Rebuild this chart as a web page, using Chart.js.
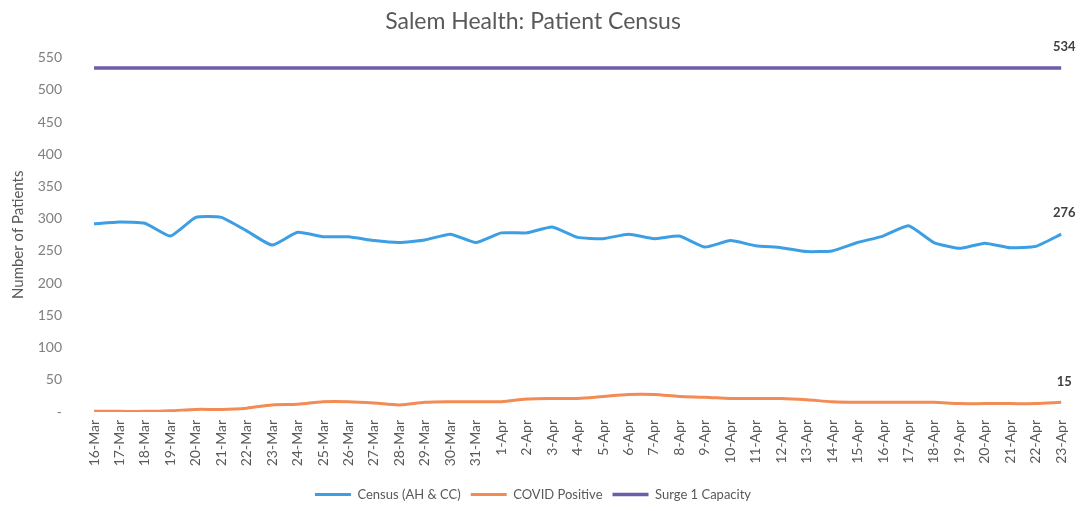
<!DOCTYPE html>
<html>
<head>
<meta charset="utf-8">
<script src="https://cdn.jsdelivr.net/npm/chart.js@4/dist/chart.umd.min.js"></script>
<style>
  html, body { margin: 0; padding: 0; background: #fff; }
  #wrap { width: 1086px; height: 511px; position: relative; }
</style>
</head>
<body>
<div id="wrap"><canvas id="censusChart"></canvas></div>
<script>
// dates on the x axis
const dias = ['16-Mar','17-Mar','18-Mar','19-Mar','20-Mar','21-Mar','22-Mar','23-Mar','24-Mar','25-Mar',
  '26-Mar','27-Mar','28-Mar','29-Mar','30-Mar','31-Mar','1-Apr','2-Apr','3-Apr','4-Apr','5-Apr','6-Apr',
  '7-Apr','8-Apr','9-Apr','10-Apr','11-Apr','12-Apr','13-Apr','14-Apr','15-Apr','16-Apr','17-Apr',
  '18-Apr','19-Apr','20-Apr','21-Apr','22-Apr','23-Apr'];

const censo = [292, 295, 293, 273, 302, 302, 281, 259, 279, 272, 272, 266, 263, 267, 276, 263, 278, 278, 287,
  271, 269, 276, 269, 273, 256, 266, 258, 255, 249, 250, 263, 273, 289, 263, 254, 262, 255, 257, 276];

const covid = [1, 1, 1, 2, 4, 4, 6, 11, 12, 16, 16, 14, 11, 15, 16, 16, 16, 20, 21,
  21, 24, 27, 27, 24, 23, 21, 21, 21, 19, 16, 15, 15, 15, 15, 13, 13, 13, 13, 15];

const surge = [534, 534, 534, 534, 534, 534, 534, 534, 534, 534, 534, 534, 534, 534, 534, 534, 534, 534, 534,
  534, 534, 534, 534, 534, 534, 534, 534, 534, 534, 534, 534, 534, 534, 534, 534, 534, 534, 534, 534];

const yTicks = [0, 50, 100, 150, 200, 250, 300, 350, 400, 450, 500, 550];

const fonte = 'Lato, "Open Sans", sans-serif';

// labels at the end of each line
const ultimoValor = {
  id: 'ultimoValor',
  afterDatasetsDraw(chart) {
    const ctx = chart.ctx;
    ctx.save();
    ctx.font = 'bold 13px ' + fonte;
    ctx.fillStyle = '#404040';
    ctx.textAlign = 'center';
    ctx.textBaseline = 'middle';
    chart.data.datasets.forEach((ds, i) => {
      const meta = chart.getDatasetMeta(i);
      const pt = meta.data[meta.data.length - 1];
      ctx.fillText(ds.data[ds.data.length - 1], pt.x + 3, pt.y - 21);
    });
    ctx.restore();
  }
};

const ctx = document.getElementById('censusChart').getContext('2d');
new Chart(ctx, {
  type: 'line',
  data: {
    labels: dias,
    datasets: [
      { label: 'Census (AH & CC)', data: censo, borderColor: '#3C9EE3', backgroundColor: '#3C9EE3',
        borderWidth: 3, pointRadius: 0, tension: 0.15 },
      { label: 'COVID Positive', data: covid, borderColor: '#F28B54', backgroundColor: '#F28B54',
        borderWidth: 3, pointRadius: 0, tension: 0.3 },
      { label: 'Surge 1 Capacity', data: surge, borderColor: '#6E5CA8', backgroundColor: '#6E5CA8',
        borderWidth: 3.5, pointRadius: 0 }
    ]
  },
  options: {
    responsive: true,
    maintainAspectRatio: false,
    animation: false,
    layout: { padding: { left: 0, right: 20, top: 0, bottom: 0 } },
    plugins: {
      title: {
        display: true,
        text: 'Salem Health: Patient Census',
        color: '#595959',
        font: { family: fonte, size: 23, weight: 'normal' },
        padding: { top: 8, bottom: 22 }
      },
      legend: {
        position: 'bottom',
        labels: {
          usePointStyle: true,
          pointStyle: 'line',
          pointStyleWidth: 36,
          color: '#595959',
          font: { family: fonte, size: 13 },
          padding: 10
        }
      },
      tooltip: { enabled: false }
    },
    scales: {
      x: {
        offset: false,
        grid: { display: false, drawTicks: false },
        border: { display: false },
        ticks: {
          autoSkip: false,
          minRotation: 90,
          maxRotation: 90,
          padding: 8,
          color: '#595959',
          font: { family: fonte, size: 14 }
        },
        afterFit(scale) { scale.height = 66; }
      },
      y: {
        min: 0,
        max: 550,
        grid: { display: false, drawTicks: false },
        border: { display: false },
        afterBuildTicks(scale) { scale.ticks = yTicks.map(v => ({ value: v })); },
        ticks: {
          padding: 32,
          color: '#7F7F7F',
          font: { family: fonte, size: 14 },
          callback: v => v === 0 ? '-' : v
        },
        title: {
          display: true,
          text: 'Number of Patients',
          color: '#595959',
          font: { family: fonte, size: 15 },
          padding: { top: 9, bottom: 0 }
        },
        afterFit(scale) { scale.width = 94; }
      }
    }
  },
  plugins: [ultimoValor]
});
</script>
</body>
</html>
